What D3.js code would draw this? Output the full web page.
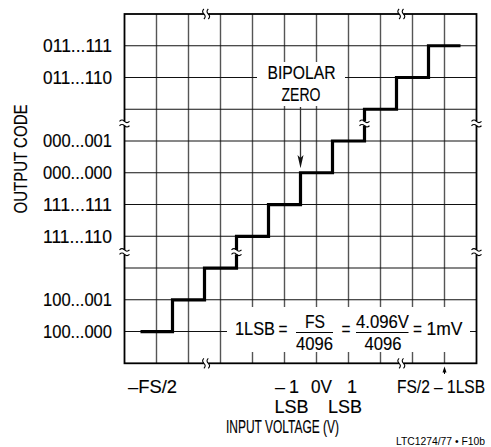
<!DOCTYPE html>
<html>
<head>
<meta charset="utf-8">
<script src="https://cdn.jsdelivr.net/npm/d3@7"></script>
<style>
  body { margin: 0; background: #fff; }
  svg text { font-family: "Liberation Sans", Arial, Helvetica, sans-serif; fill: #000; stroke: #000; stroke-width: 0.15px; }
</style>
</head>
<body>
<div id="chart"></div>
<script>
// Output codes, placed on grid rows (counted from the bottom edge)
const codeLevels = [10, 9, 7, 6, 5, 4, 2, 1];
const codeLabels = ["011...111", "011...110", "000...001", "000...000",
                    "111...111", "111...110", "100...001", "100...000"];

// Transfer staircase: input (grid columns) where each code starts, and its level
const stepInputs = [0.5, 1.5, 2.5, 3.5, 4.5, 5.5, 6.5, 7.5, 8.5, 9.5, 10.5];
const stepLevels = [1, 2, 3, 4, 5, 6, 7, 8, 9, 10, 10];

// Input voltage ticks (grid columns) and their labels (one entry per line)
const inputTicks = [0.5, 5, 6, 7, 10];
const inputLabels = [["\u2013FS/2"], ["\u20131", "LSB"], ["0V"], ["1", "LSB"], ["FS/2 \u2013 1LSB"]];

// Scale breaks
const inputBreaks = [2.55, 8.65];
const levelBreaks = [7.55, 3.5];

const W = 491, H = 447;
const gx0 = 124.5, gx1 = 476.5, gy0 = 14, gy1 = 363.3;
const fs = 18;

const svg = d3.select("#chart").append("svg")
  .attr("width", W).attr("height", H);

// squeeze a label to the (condensed) width it has in the figure
function fit(sel, w) {
  if (w) sel.attr("textLength", w).attr("lengthAdjust", "spacingAndGlyphs");
  return sel;
}

const x = d3.scaleLinear().domain([0, 11]).range([gx0, gx1]);
const y = d3.scaleLinear().domain([0, 11]).range([gy1, gy0]);

// Grid
svg.append("g")
  .attr("transform", `translate(0,${gy1})`)
  .call(d3.axisBottom(x).tickValues(d3.range(1, 11)).tickSize(-(gy1 - gy0)).tickFormat("").offset(0))
  .call(g => g.select(".domain").remove())
  .selectAll("line").attr("stroke", "#555").attr("stroke-width", 1.4);

svg.append("g")
  .attr("transform", `translate(${gx0},0)`)
  .call(d3.axisLeft(y).tickValues(d3.range(1, 11)).tickSize(-(gx1 - gx0)).tickFormat("").offset(0))
  .call(g => g.select(".domain").remove())
  .selectAll("line").attr("stroke", "#111").attr("stroke-width", 1.1);

// White label boxes over the grid
const boxes = [[257, 62, 88, 44], [227, 307, 243, 45]];
svg.selectAll("rect.box").data(boxes).join("rect")
  .attr("class", "box")
  .attr("x", d => d[0]).attr("y", d => d[1])
  .attr("width", d => d[2]).attr("height", d => d[3])
  .attr("fill", "#fff");

// Frame
svg.append("rect")
  .attr("x", gx0).attr("y", gy0)
  .attr("width", gx1 - gx0).attr("height", gy1 - gy0)
  .attr("fill", "none").attr("stroke", "#000").attr("stroke-width", 1.8);

// Staircase
const line = d3.line()
  .x(d => x(d[0])).y(d => y(d[1]))
  .curve(d3.curveStepAfter);
svg.append("path")
  .datum(stepInputs.map((v, i) => [v, stepLevels[i]]))
  .attr("d", line)
  .attr("fill", "none").attr("stroke", "#000")
  .attr("stroke-width", 3.2).attr("stroke-linejoin", "miter");

// Break marks
const brk = svg.append("g").attr("fill", "none").attr("stroke", "#000").attr("stroke-width", 1.1);
function breakOnVertical(cx, cy) {
  brk.append("rect").attr("x", cx - 4).attr("y", cy - 2.2).attr("width", 8).attr("height", 4.4)
    .attr("fill", "#fff").attr("stroke", "none");
  [-2.2, 2.2].forEach(o => brk.append("path")
    .attr("d", `M${cx - 5},${cy + o} q2.5,-2.6 5,0 t5,0`));
}
function breakOnHorizontal(cx, cy) {
  brk.append("rect").attr("x", cx - 2.2).attr("y", cy - 4).attr("width", 4.4).attr("height", 8)
    .attr("fill", "#fff").attr("stroke", "none");
  [-2.2, 2.2].forEach(o => brk.append("path")
    .attr("d", `M${cx + o},${cy - 5} q-2.6,2.5 0,5 t0,5`));
}
inputBreaks.forEach(v => {
  breakOnHorizontal(x(v), gy0);
  breakOnHorizontal(x(v), gy1);
});
levelBreaks.forEach(v => {
  breakOnVertical(gx0, y(v));
  breakOnVertical(gx1, y(v));
});
// breaks on the staircase risers
breakOnVertical(x(7.5), y(levelBreaks[0]));
breakOnVertical(x(3.5), y(levelBreaks[1]));

// Output code labels
svg.append("g")
  .attr("transform", `translate(${gx0},0)`)
  .call(d3.axisLeft(y).tickValues(codeLevels).tickFormat((d, i) => codeLabels[i]).tickSize(0).tickPadding(12.5))
  .call(g => g.select(".domain").remove())
  .attr("font-family", null)
  .selectAll("text")
    .style("font-size", fs + "px")
    .call(fit, 69);

fit(svg.append("text")
  .attr("transform", `translate(27,159) rotate(-90)`)
  .attr("text-anchor", "middle")
  .style("font-size", fs + "px")
  .text("OUTPUT CODE"), 109);

// Input tick labels
const labelDx = [[12], [4.5, 7], [5], [3.5, -3.5], [-3.5]];
const labelW = [[49], [0, 34], [21], [0, 34], [88]];
const lineY = [393, 413];
inputTicks.forEach((v, i) => {
  inputLabels[i].forEach((t, j) => {
    fit(svg.append("text")
      .attr("x", x(v) + labelDx[i][j]).attr("y", lineY[j])
      .attr("text-anchor", "middle")
      .style("font-size", fs + "px")
      .style("letter-spacing", t === "\u20131" ? "4px" : null)
      .text(t), labelW[i][j]);
  });
});

// arrow to FS/2 - 1LSB (kept clear of the label below)
const ax = x(inputTicks[4]);
svg.append("line").attr("x1", ax).attr("x2", ax).attr("y1", 374).attr("y2", 371)
  .attr("stroke", "#000").attr("stroke-width", 1);
svg.append("path").attr("d", `M${ax},366.5 L${ax - 2},372.5 L${ax + 2},372.5 Z`).attr("fill", "#000");

fit(svg.append("text")
  .attr("x", 282.5).attr("y", 433)
  .attr("text-anchor", "middle")
  .style("font-size", fs + "px")
  .text("INPUT VOLTAGE (V)"), 113);

// Bipolar zero annotation
fit(svg.append("text").attr("x", 301.5).attr("y", 79.3).attr("text-anchor", "middle")
  .style("font-size", fs + "px").text("BIPOLAR"), 68);
fit(svg.append("text").attr("x", 301).attr("y", 100.7).attr("text-anchor", "middle")
  .style("font-size", fs + "px").text("ZERO"), 39);
const bx = x(5.5);
svg.append("line").attr("x1", bx).attr("x2", bx).attr("y1", 107).attr("y2", 158)
  .attr("stroke", "#333").attr("stroke-width", 1.3);
svg.append("path").attr("d", `M${bx},${y(6) - 4.5} L${bx - 3},155 L${bx},158 L${bx + 3},155 Z`).attr("fill", "#111");

// LSB formula
const formula = svg.append("g").style("font-size", fs + "px").attr("text-anchor", "middle");
fit(formula.append("text").attr("x", 255).attr("y", 335).text("1LSB"), 40);
fit(formula.append("text").attr("x", 283).attr("y", 335).text("="), 9);
fit(formula.append("text").attr("x", 315).attr("y", 328).text("FS"), 20);
fit(formula.append("text").attr("x", 314.5).attr("y", 350).text("4096"), 37);
fit(formula.append("text").attr("x", 346).attr("y", 335).text("="), 9);
fit(formula.append("text").attr("x", 382.5).attr("y", 328).text("4.096V"), 53);
fit(formula.append("text").attr("x", 383).attr("y", 350).text("4096"), 37);
fit(formula.append("text").attr("x", 417.5).attr("y", 335).text("="), 9);
fit(formula.append("text").attr("x", 444.5).attr("y", 335).text("1mV"), 36);
formula.append("line").attr("x1", 296).attr("x2", 333).attr("y1", 332.5).attr("y2", 332.5)
  .attr("stroke", "#000").attr("stroke-width", 1);
formula.append("line").attr("x1", 356).attr("x2", 408.5).attr("y1", 332.5).attr("y2", 332.5)
  .attr("stroke", "#000").attr("stroke-width", 1);

fit(svg.append("text")
  .attr("x", 485).attr("y", 445)
  .attr("text-anchor", "end")
  .style("font-size", "10px")
  .style("stroke-width", "0px")
  .text("LTC1274/77 \u2022 F10b"), 89);
</script>
</body>
</html>
